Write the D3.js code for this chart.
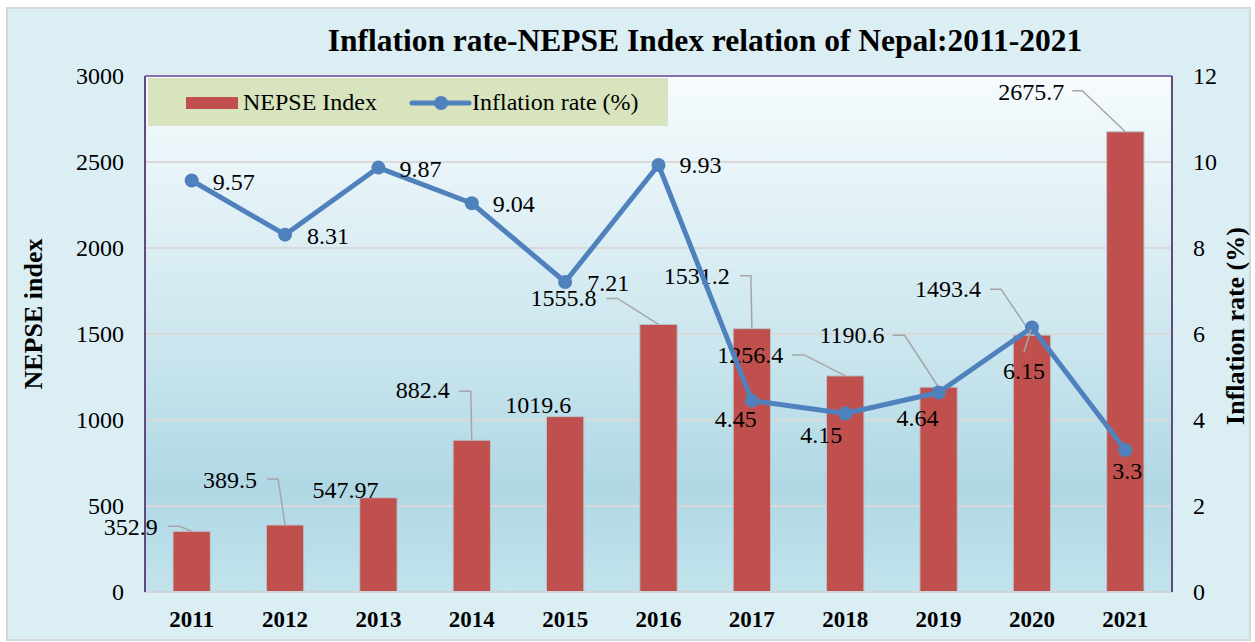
<!DOCTYPE html>
<html>
<head>
<meta charset="utf-8">
<script src="https://cdn.jsdelivr.net/npm/d3@7"></script>
<style>
  html, body { margin: 0; padding: 0; background: #ffffff; }
  svg { display: block; font-family: "Liberation Serif", "Times New Roman", serif; }
</style>
</head>
<body>
<svg id="chart" width="1255" height="642"></svg>
<script>
// ---- data ----
const years = ["2011","2012","2013","2014","2015","2016","2017","2018","2019","2020","2021"];
const nepseIndex = [352.9, 389.5, 547.97, 882.4, 1019.6, 1555.8, 1531.2, 1256.4, 1190.6, 1493.4, 2675.7];
const inflationRate = [9.57, 8.31, 9.87, 9.04, 7.21, 9.93, 4.45, 4.15, 4.64, 6.15, 3.3];
const nepseLabels = ["352.9","389.5","547.97","882.4","1019.6","1555.8","1531.2","1256.4","1190.6","1493.4","2675.7"];
const inflationLabels = ["9.57","8.31","9.87","9.04","7.21","9.93","4.45","4.15","4.64","6.15","3.3"];
const leftTicks = [0, 500, 1000, 1500, 2000, 2500, 3000];
const rightTicks = [0, 2, 4, 6, 8, 10, 12];

// ---- label placement (offsets from the data point, like manually moved Excel labels) ----
const barLabelPos = [
  {dx:-34, dy:4,   lead:[-24,-5,-12]},
  {dx:-28, dy:-37, lead:[-18,-46,-7]},
  {dx:0,   dy:0,   lead:null},
  {dx:-22, dy:-42, lead:[-13,-49,-1]},
  {dx:6,   dy:-4,  lead:null},
  {dx:-62, dy:-18, lead:[-52,-26,-41]},
  {dx:-22, dy:-45, lead:[-12,-53,-1]},
  {dx:-62, dy:-13, lead:[-53,-21,-41]},
  {dx:-54, dy:-44, lead:[-46,-52,-34]},
  {dx:-51, dy:-38, lead:[-42,-46,-31]},
  {dx:-61, dy:-32, lead:[-53,-41,-43]}
];
const lineLabelPos = [
  {dx:21, dy:10}, {dx:22, dy:9}, {dx:21, dy:9}, {dx:21, dy:9}, {dx:22, dy:9},
  {dx:21, dy:8}, {dx:-37, dy:26}, {dx:-45, dy:29}, {dx:-42, dy:34},
  {dx:-29, dy:51, lead:[-8,25,-1,2]}, {dx:-13, dy:29}
];

// ---- layout ----
const plot = {left:145, right:1172, top:76, bottom:592};
const svg = d3.select("#chart");

const defs = svg.append("defs");
const grad = defs.append("linearGradient").attr("id","plotGrad")
  .attr("x1","0").attr("y1","0").attr("x2","0").attr("y2","1");
[["0%","#f6fbfd"],["18%","#e8f4f8"],["50%","#cde7ef"],["80%","#afd8e4"],["100%","#c2e3ec"]]
  .forEach(([o,c]) => grad.append("stop").attr("offset",o).attr("stop-color",c));

svg.append("rect").attr("x",7).attr("y",8).attr("width",1243).attr("height",632)
  .attr("fill","#dbeef4").attr("stroke","#d4d8da").attr("stroke-width",2);

svg.append("rect").attr("x",plot.left).attr("y",plot.top)
  .attr("width",plot.right-plot.left).attr("height",plot.bottom-plot.top)
  .attr("fill","url(#plotGrad)");

const x = d3.scaleBand().domain(years).range([plot.left, plot.right]).padding(0);
const yL = d3.scaleLinear().domain([0,3000]).range([plot.bottom, plot.top]);
const yR = d3.scaleLinear().domain([0,12]).range([plot.bottom, plot.top]);
const cx = d => x(d) + x.bandwidth()/2;

svg.append("g").selectAll("line").data(leftTicks.filter(t => t>0 && t<3000)).join("line")
  .attr("x1",plot.left).attr("x2",plot.right)
  .attr("y1",d=>yL(d)).attr("y2",d=>yL(d))
  .attr("stroke","#d9d9d9").attr("stroke-width",2);

const barW = x.bandwidth()*0.4;
svg.append("g").selectAll("rect").data(nepseIndex).join("rect")
  .attr("x",(d,i)=>cx(years[i]) - barW/2)
  .attr("y",d=>yL(d))
  .attr("width",barW)
  .attr("height",d=>yL(0)-yL(d))
  .attr("fill","#c0504d")
  .attr("stroke","#b8c6cc").attr("stroke-width",1);

svg.append("line").attr("x1",plot.left).attr("x2",plot.right).attr("y1",plot.bottom).attr("y2",plot.bottom)
  .attr("stroke","#d0d4d6").attr("stroke-width",2);
svg.append("line").attr("x1",plot.left).attr("x2",plot.right).attr("y1",plot.top).attr("y2",plot.top)
  .attr("stroke","#8a6fb0").attr("stroke-width",2);
svg.append("line").attr("x1",plot.left).attr("x2",plot.left).attr("y1",plot.top).attr("y2",plot.bottom)
  .attr("stroke","#5f4b7d").attr("stroke-width",2);
svg.append("line").attr("x1",plot.right).attr("x2",plot.right).attr("y1",plot.top).attr("y2",plot.bottom)
  .attr("stroke","#5f4b7d").attr("stroke-width",2);

const barLab = svg.append("g");
nepseIndex.forEach((v,i) => {
  const px = cx(years[i]), py = yL(v), p = barLabelPos[i];
  if (p.lead) {
    barLab.append("path")
      .attr("d", `M${px+p.lead[0]},${py+p.lead[1]} L${px+p.lead[2]},${py+p.lead[1]} L${px},${py}`)
      .attr("fill","none").attr("stroke","#a6a6a6").attr("stroke-width",1.5);
  }
  barLab.append("text").attr("x",px+p.dx).attr("y",py+p.dy)
    .attr("text-anchor","end").attr("font-size",24).attr("fill","#000").text(nepseLabels[i]);
});

const line = d3.line().x((d,i)=>cx(years[i])).y(d=>yR(d));
svg.append("path").datum(inflationRate).attr("d",line)
  .attr("fill","none").attr("stroke","#4f81bd").attr("stroke-width",5).attr("stroke-linejoin","round");
svg.append("g").selectAll("circle").data(inflationRate).join("circle")
  .attr("cx",(d,i)=>cx(years[i])).attr("cy",d=>yR(d)).attr("r",7).attr("fill","#4f81bd");

const lineLab = svg.append("g");
inflationRate.forEach((v,i) => {
  const px = cx(years[i]), py = yR(v), p = lineLabelPos[i];
  if (p.lead) {
    lineLab.append("line").attr("x1",px+p.lead[0]).attr("y1",py+p.lead[1])
      .attr("x2",px+p.lead[2]).attr("y2",py+p.lead[3])
      .attr("stroke","#a6a6a6").attr("stroke-width",1.5);
  }
  lineLab.append("text").attr("x",px+p.dx).attr("y",py+p.dy)
    .attr("text-anchor","start").attr("font-size",24).attr("fill","#000").text(inflationLabels[i]);
});

const axL = svg.append("g").attr("transform",`translate(${plot.left},0)`)
  .call(d3.axisLeft(yL).tickValues(leftTicks).tickSize(0).tickPadding(21).tickFormat(d3.format("d")));
const axR = svg.append("g").attr("transform",`translate(${plot.right},0)`)
  .call(d3.axisRight(yR).tickValues(rightTicks).tickSize(0).tickPadding(21).tickFormat(d3.format("d")));
const axB = svg.append("g").attr("transform",`translate(0,${plot.bottom})`)
  .call(d3.axisBottom(x).tickSize(0).tickPadding(19));
[axL, axR, axB].forEach(a => {
  a.select(".domain").remove();
  a.attr("font-family", null);
  a.selectAll("text").style("font-family","'Liberation Serif', 'Times New Roman', serif")
    .attr("font-size",24).attr("fill","#000");
});
axB.selectAll("text").attr("font-weight","bold").attr("font-size",23);

svg.append("text").attr("transform","translate(42,314) rotate(-90)")
  .attr("text-anchor","middle").attr("font-size",26).attr("font-weight","bold").text("NEPSE index");
svg.append("text").attr("transform","translate(1244,326) rotate(-90)")
  .attr("text-anchor","middle").attr("font-size",26).attr("font-weight","bold").text("Inflation rate (%)");

svg.append("text").attr("x",705).attr("y",51).attr("text-anchor","middle")
  .attr("font-size",31.5).attr("font-weight","bold").text("Inflation rate-NEPSE Index relation of Nepal:2011-2021");

const lg = svg.append("g");
lg.append("rect").attr("x",148).attr("y",78).attr("width",520).attr("height",48).attr("fill","#d7e4bd");
lg.append("rect").attr("x",186).attr("y",97).attr("width",52).attr("height",12).attr("fill","#c0504d");
lg.append("text").attr("x",243).attr("y",110).attr("font-size",24).text("NEPSE Index");
lg.append("line").attr("x1",412).attr("x2",469).attr("y1",103).attr("y2",103)
  .attr("stroke","#4f81bd").attr("stroke-width",5).attr("stroke-linecap","round");
lg.append("circle").attr("cx",441).attr("cy",103).attr("r",7).attr("fill","#4f81bd");
lg.append("text").attr("x",472).attr("y",110).attr("font-size",24).text("Inflation rate (%)");
</script>
</body>
</html>
